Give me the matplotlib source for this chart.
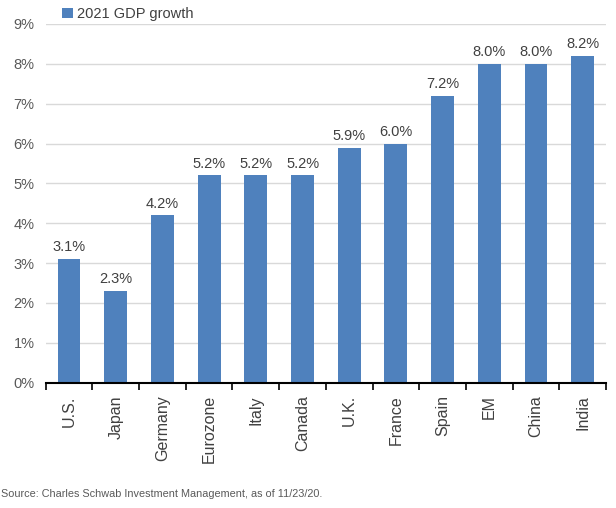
import numpy as np
import matplotlib.pyplot as plt

countries = ["U.S.", "Japan", "Germany", "Eurozone", "Italy", "Canada",
             "U.K.", "France", "Spain", "EM", "China", "India"]
growth = [3.1, 2.3, 4.2, 5.2, 5.2, 5.2, 5.9, 6.0, 7.2, 8.0, 8.0, 8.2]
yticks = list(range(0, 10))

plt.rcParams['font.family'] = ['Liberation Sans', 'DejaVu Sans']

fig = plt.figure(figsize=(6.16, 5.08), dpi=100)
ax = fig.add_axes([0.0742, 0.2467, 0.9096, 0.7061])

x = np.arange(len(countries))
bars = ax.bar(x, growth, width=0.49, color="#4f81bd", zorder=3,
              label="2021 GDP growth")

for xi, v in zip(x, growth):
    ax.text(xi, v + 0.12, f"{v:.1f}%", ha="center", va="bottom",
            fontsize=10.5, color="#404040")

ax.set_xlim(-0.5, len(countries) - 0.5)
ax.set_ylim(0, 9)
ax.set_yticks(yticks)
ax.set_yticklabels([f"{t}%" for t in yticks], fontsize=10.5, color="#595959")
ax.tick_params(axis="y", length=0, pad=8)
ax.yaxis.grid(True, color="#d9d9d9", linewidth=1, zorder=0)

ax.set_xticks(x)
ax.set_xticklabels(countries, rotation=90, fontsize=11.5, color="#404040")
ax.tick_params(axis="x", which="major", length=0, pad=9)
ax.set_xticks(np.arange(-0.5, len(countries)), minor=True)
ax.tick_params(axis="x", which="minor", length=5, width=1.2, color="black")

for s in ["top", "right", "left"]:
    ax.spines[s].set_visible(False)
ax.spines["bottom"].set_color("black")
ax.spines["bottom"].set_linewidth(1.5)
ax.spines["bottom"].set_zorder(4)

fig.legend(handles=[bars], labels=["2021 GDP growth"], loc="upper left",
           bbox_to_anchor=(0.08, 1.012), frameon=False, fontsize=10.5,
           handlelength=0.7, handleheight=0.7, handletextpad=0.3,
           labelcolor="#404040")

fig.text(0.002, 0.022, "Source: Charles Schwab Investment Management, as of 11/23/20.",
         fontsize=7.8, color="#595959")

fig.savefig("out.png", dpi=100)
